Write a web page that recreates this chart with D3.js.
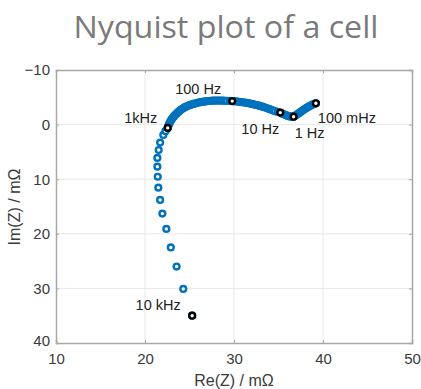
<!DOCTYPE html>
<html>
<head>
<meta charset="utf-8">
<script src="https://cdn.jsdelivr.net/npm/d3@7"></script>
<style>
  body { margin: 0; background: #fff; }
  svg { display: block; }
</style>
</head>
<body>
<svg id="chart" width="421" height="389"></svg>
<script>
// measured impedance, Re(Z) and Im(Z) in mOhm (Im plotted with -10 on top)
const reZ = [25.3, 24.3, 23.55, 22.9, 22.4, 21.95, 21.7, 21.5, 21.43, 21.39, 21.39, 21.54, 21.7, 22.06, 22.3,
  22.55, 22.6, 22.65, 22.72, 22.8, 22.87, 22.95, 23.05, 23.15, 23.25, 23.35, 23.47, 23.6, 23.72, 23.85, 23.97,
  24.1, 24.25, 24.4, 24.55, 24.7, 24.85, 25.0, 25.18, 25.35, 25.52, 25.7, 25.88, 26.05, 26.22, 26.4, 26.6,
  26.8, 27.0, 27.2, 27.4, 27.6, 27.8, 28.0, 28.2, 28.4, 28.6, 28.8, 29.0, 29.2, 29.5, 29.8, 30.0, 30.2, 30.4,
  30.6, 30.8, 31.0, 31.2, 31.4, 31.6, 31.8, 32.0, 32.2, 32.4, 32.6, 32.8, 33.0, 33.2, 33.4, 33.6, 33.8, 34.0,
  34.2, 34.4, 34.6, 34.9, 35.2, 35.35, 35.5, 35.65, 35.8, 35.95, 36.1, 36.25, 36.4, 36.55, 36.7, 36.85, 37.0,
  37.15, 37.3, 37.45, 37.6, 37.75, 37.9, 38.05, 38.2, 38.35, 38.5, 38.65, 38.8, 39.0, 39.2];
const imZ = [35.0, 30.1, 26.0, 22.5, 19.1, 16.3, 13.8, 11.55, 9.55, 7.7, 6.1, 4.65, 3.3, 1.9, 1.2,
  0.6, 0.35, 0.1, -0.15, -0.4, -0.62, -0.85, -1.08, -1.3, -1.5, -1.7, -1.9, -2.1, -2.28, -2.45, -2.62,
  -2.8, -2.95, -3.1, -3.23, -3.35, -3.45, -3.55, -3.65, -3.75, -3.83, -3.9, -3.98, -4.05, -4.1, -4.15, -4.2,
  -4.25, -4.29, -4.32, -4.35, -4.38, -4.39, -4.4, -4.4, -4.4, -4.39, -4.38, -4.37, -4.35, -4.33, -4.3, -4.28, -4.25, -4.22,
  -4.18, -4.13, -4.08, -4.03, -3.98, -3.92, -3.85, -3.78, -3.7, -3.63, -3.55, -3.47, -3.38, -3.28, -3.18, -3.07, -2.95, -2.83,
  -2.7, -2.58, -2.45, -2.32, -2.2, -2.08, -1.95, -1.85, -1.75, -1.65, -1.55, -1.5, -1.45, -1.43, -1.45, -1.6, -1.75,
  -1.92, -2.1, -2.28, -2.45, -2.62, -2.8, -2.95, -3.1, -3.25, -3.4, -3.52, -3.65, -3.78, -3.9];

// highlighted frequencies
const freqLabels = ["10 kHz", "1kHz", "100 Hz", "10 Hz", "1 Hz", "100 mHz"];
const freqRe = [25.3, 22.55, 29.8, 35.2, 36.7, 39.2];
const freqIm = [35.0, 0.6, -4.3, -2.2, -1.45, -3.9];

const xTicks = [10, 20, 30, 40, 50];
const yTicks = [-10, 0, 10, 20, 30, 40];

const margin = { left: 56, right: 9, top: 70, bottom: 46 };
const W = 421, H = 389;
const svg = d3.select("#chart");

const x = d3.scaleLinear().domain([10, 50]).range([margin.left, W - margin.right]);
const y = d3.scaleLinear().domain([-10, 40]).range([margin.top, H - margin.bottom]);

const axisCol = "#a8a8a8";
const txtCol = "#3a3a3a";

svg.append("text")
  .attr("x", 226).attr("y", 38)
  .attr("text-anchor", "middle")
  .attr("font-family", "Open Sans, sans-serif")
  .attr("font-size", 31)
  .attr("fill", "#7a7a7a")
  .attr("textLength", 305)
  .attr("lengthAdjust", "spacingAndGlyphs")
  .text("Nyquist plot of a cell");

// grid
const grid = svg.append("g").attr("stroke", "#e8e8e8").attr("stroke-width", 1);
grid.selectAll(".gx").data(xTicks.slice(1, -1)).join("line")
  .attr("x1", d => x(d)).attr("x2", d => x(d))
  .attr("y1", y(-10)).attr("y2", y(40));
grid.selectAll(".gy").data(yTicks.slice(1, -1)).join("line")
  .attr("y1", d => y(d)).attr("y2", d => y(d))
  .attr("x1", x(10)).attr("x2", x(50));

// axes
const font = "'Liberation Sans', Arial, sans-serif";
const styleAxis = g => {
  g.select(".domain").attr("stroke", axisCol).attr("stroke-width", 1.5);
  g.selectAll(".tick line").attr("stroke", axisCol);
  g.selectAll(".tick text").attr("fill", txtCol).attr("font-family", font).attr("font-size", 15);
};
svg.append("g").attr("transform", `translate(0,${y(40)})`)
  .call(d3.axisBottom(x).tickValues(xTicks).tickSize(-3).tickPadding(10).tickFormat(d3.format("d")))
  .call(styleAxis);
svg.append("g").attr("transform", `translate(${x(10)},0)`)
  .call(d3.axisLeft(y).tickValues(yTicks).tickSize(-3).tickPadding(6).tickFormat(d => d < 0 ? "\u2212" + (-d) : d))
  .call(styleAxis)
  .call(g => g.selectAll(".tick text").filter(d => d === 40).attr("dy", "0.15em"));
svg.append("g").attr("transform", `translate(0,${y(-10)})`)
  .call(d3.axisTop(x).tickValues(xTicks).tickSize(-3).tickFormat(""))
  .call(styleAxis);
svg.append("g").attr("transform", `translate(${x(50)},0)`)
  .call(d3.axisRight(y).tickValues(yTicks).tickSize(-3).tickFormat(""))
  .call(styleAxis);

// axis titles
svg.append("text")
  .attr("x", (x(10) + x(50)) / 2).attr("y", 386)
  .attr("text-anchor", "middle")
  .attr("font-family", font).attr("font-size", 16).attr("fill", txtCol)
  .text("Re(Z) / m\u03A9");
svg.append("text")
  .attr("transform", `translate(20,207) rotate(-90)`)
  .attr("text-anchor", "middle")
  .attr("font-family", font).attr("font-size", 16).attr("fill", txtCol)
  .text("Im(Z) / m\u03A9");

// data points
const pts = reZ.map((r, i) => ({ r, im: imZ[i] }));
svg.append("g").selectAll("circle").data(pts).join("circle")
  .attr("cx", d => x(d.r)).attr("cy", d => y(d.im))
  .attr("r", 2.9)
  .attr("fill", "#fff")
  .attr("stroke", "#0072BD")
  .attr("stroke-width", 2.4);

const fr = freqLabels.map((l, i) => ({ l, r: freqRe[i], im: freqIm[i] }));
svg.append("g").selectAll("circle").data(fr).join("circle")
  .attr("cx", d => x(d.r)).attr("cy", d => y(d.im))
  .attr("r", 2.9)
  .attr("fill", "#fff")
  .attr("stroke", "#000")
  .attr("stroke-width", 2.4);

// label offsets relative to the marker
const lblDx = [-34, -27, -34, -20, 16, 31];
const lblDy = [-6, -5, -7, 21, 21, 20];
svg.append("g").selectAll("text").data(fr).join("text")
  .attr("x", (d, i) => x(d.r) + lblDx[i])
  .attr("y", (d, i) => y(d.im) + lblDy[i])
  .attr("text-anchor", "middle")
  .attr("font-family", font).attr("font-size", 14.5).attr("fill", "#222")
  .text(d => d.l);
</script>
</body>
</html>
